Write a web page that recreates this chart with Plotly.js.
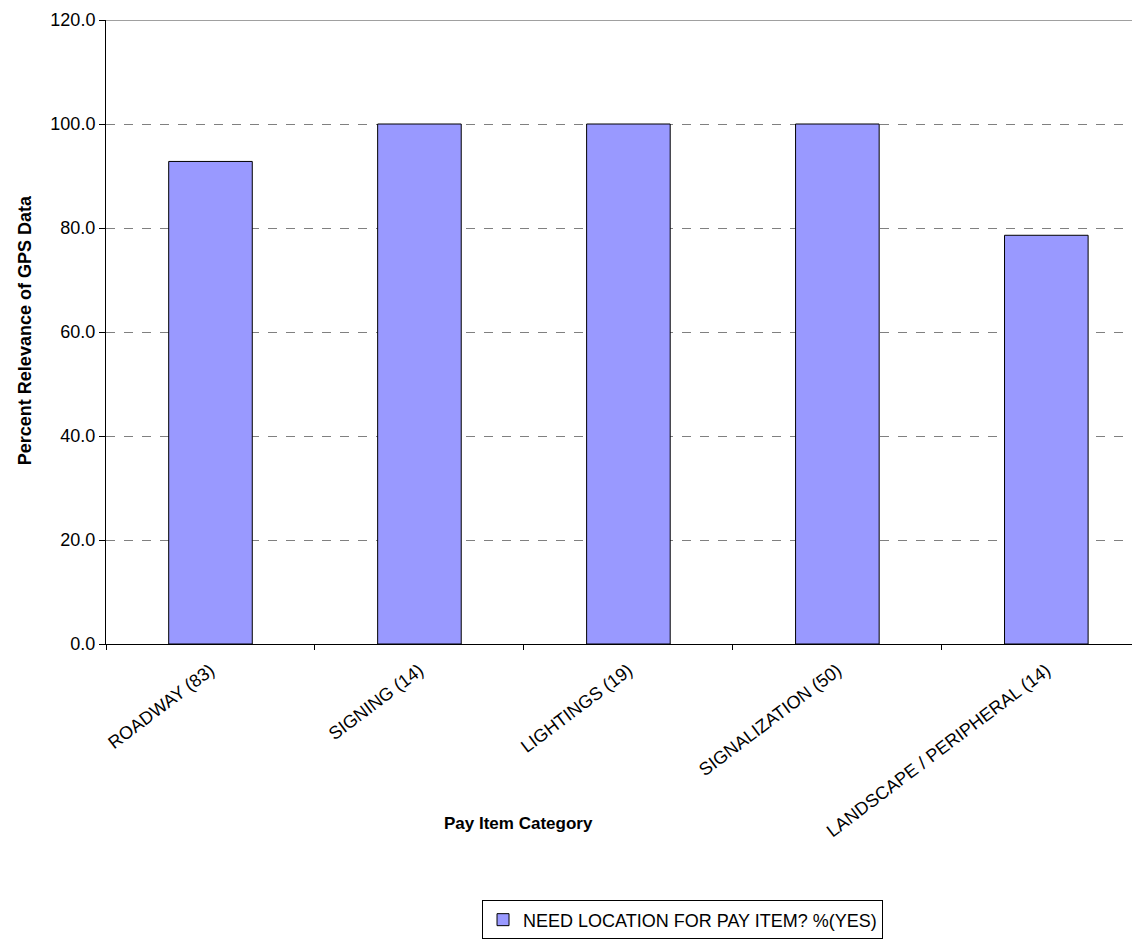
<!DOCTYPE html>
<html>
<head>
<meta charset="utf-8">
<script src="https://cdn.plot.ly/plotly-3.0.1.min.js"></script>
<style>html,body{margin:0;padding:0;background:#fff;}#chart{width:1132px;height:940px;}</style>
</head>
<body>
<div id="chart"></div>
<script>
const categories = ["ROADWAY (83)", "SIGNING (14)", "LIGHTINGS (19)", "SIGNALIZATION (50)", "LANDSCAPE / PERIPHERAL (14)"];
const percentYes = [92.8, 100.0, 100.0, 100.0, 78.6];
const seriesName = "NEED LOCATION FOR PAY ITEM? %(YES)";
const yTickVals = [0, 20, 40, 60, 80, 100, 120];

const trace = {
  type: 'bar',
  x: categories,
  y: percentYes,
  name: seriesName,
  marker: {color: '#9999FF', line: {color: '#000000', width: 1}},
  showlegend: true
};

const FONT = 'Arial, Liberation Sans, sans-serif';

const layout = {
  width: 1132, height: 940,
  margin: {l: 106, r: 0, t: 20, b: 296},
  paper_bgcolor: '#ffffff', plot_bgcolor: '#ffffff',
  font: {family: FONT, size: 18, color: '#000'},
  bargap: 0.6,
  showlegend: true,
  xaxis: {
    type: 'category',
    range: [-0.5, 4.41],
    tickangle: -37,
    ticks: 'outside', tickson: 'boundaries', ticklen: 5, tickcolor: '#000',
    ticklabelstandoff: 8,
    showline: true, linecolor: '#000', linewidth: 1,
    showgrid: false, zeroline: false,
    automargin: false,
    tickfont: {size: 18, family: FONT}
  },
  yaxis: {
    range: [0, 120],
    tickvals: yTickVals,
    tickformat: '.1f',
    ticks: 'outside', ticklen: 6, tickcolor: '#000',
    showline: true, linecolor: '#000', linewidth: 1,
    showgrid: true, gridcolor: '#808080', griddash: 'dash', gridwidth: 1,
    zeroline: false,
    automargin: false,
    tickfont: {size: 18, family: FONT}
  },
  shapes: [
    {type: 'line', xref: 'paper', yref: 'y', x0: 0, x1: 1, y0: 120, y1: 120, line: {color: '#808080', width: 1.5}}
  ],
  annotations: [
    {text: '<b>Pay Item Category</b>', xref: 'paper', yref: 'paper', x: 0.4016, y: -0.287,
     xanchor: 'center', yanchor: 'middle', showarrow: false, font: {size: 17}},
    {text: '<b>Percent Relevance of GPS Data</b>', xref: 'paper', yref: 'paper', x: -0.0789, y: 0.503,
     xanchor: 'center', yanchor: 'middle', showarrow: false, textangle: -90, font: {size: 18}}
  ],
  legend: {
    x: 0.3665, y: -0.411, xanchor: 'left', yanchor: 'top',
    bordercolor: '#000', borderwidth: 1, bgcolor: '#fff',
    font: {size: 18}, orientation: 'h'
  }
};

Plotly.newPlot('chart', [trace], layout, {displayModeBar: false, staticPlot: true});
</script>
</body>
</html>
